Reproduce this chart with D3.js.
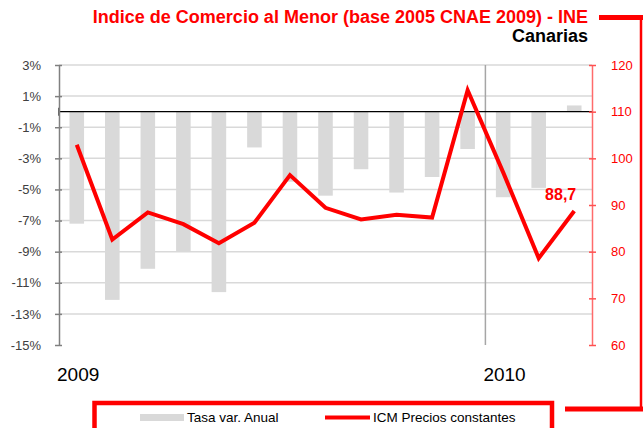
<!DOCTYPE html>
<html>
<head>
<meta charset="utf-8">
<script src="https://cdn.jsdelivr.net/npm/d3@7"></script>
<style>
  html, body { margin: 0; padding: 0; background: #fff; }
  svg { display: block; font-family: "Liberation Sans", Arial, sans-serif; }
</style>
</head>
<body>
<svg id="chart" width="643" height="428"></svg>
<script>
// ---- Data ----
const months = ["2009-01","2009-02","2009-03","2009-04","2009-05","2009-06","2009-07","2009-08","2009-09","2009-10","2009-11","2009-12","2010-01","2010-02","2010-03"];
const tasaVar = [-7.2, -12.1, -10.1, -9.0, -11.6, -2.3, -4.5, -5.4, -3.7, -5.2, -4.2, -2.4, -5.5, -4.9, 0.4];
const icm = [102.9, 82.6, 88.4, 85.9, 81.8, 86.2, 96.4, 89.4, 86.9, 87.9, 87.3, 114.6, 97.0, 78.6, 88.7];
const leftTicks = [3, 1, -1, -3, -5, -7, -9, -11, -13, -15];
const rightTicks = [120, 110, 100, 90, 80, 70, 60];
const years = [{label: "2009", first: "2009-01"}, {label: "2010", first: "2010-01"}];
const titleText = "Indice de Comercio al Menor (base 2005 CNAE 2009) - INE";
const subtitleText = "Canarias";
const lastLabel = "88,7";
const legendLabels = ["Tasa var. Anual", "ICM Precios constantes"];

// ---- Layout ----
const svg = d3.select("#chart");
const pL = 59, pR = 592, pT = 65, pB = 345;

const x = d3.scaleBand().domain(months).range([pL, pR]).paddingInner(0.59).paddingOuter(0.295);
const yL = d3.scaleLinear().domain([-15, 3]).range([pB, pT]);
const yR = d3.scaleLinear().domain([60, 120]).range([pB, pT]);
const step = x.step();

// gridlines
svg.append("g").selectAll("line").data(leftTicks.filter(d => d !== -15)).join("line")
  .attr("x1", pL).attr("x2", pR)
  .attr("y1", d => yL(d)).attr("y2", d => yL(d))
  .attr("stroke", "#d9d9d9").attr("stroke-width", 1.5);

// bars
svg.append("g").selectAll("rect").data(months).join("rect")
  .attr("x", d => x(d))
  .attr("width", x.bandwidth())
  .attr("y", (d, i) => yL(Math.max(0, tasaVar[i])))
  .attr("height", (d, i) => Math.abs(yL(tasaVar[i]) - yL(0)))
  .attr("fill", "#d9d9d9");

// year separator
const sepX = x("2010-01") - (step - x.bandwidth()) / 2;
svg.append("line").attr("x1", sepX).attr("x2", sepX).attr("y1", pT).attr("y2", pB)
  .attr("stroke", "#a6a6a6").attr("stroke-width", 1.5);

// zero line
svg.append("line").attr("x1", pL).attr("x2", pR).attr("y1", yL(0)).attr("y2", yL(0))
  .attr("stroke", "#000").attr("stroke-width", 1.2);
svg.append("line").attr("x1", pL).attr("x2", pL).attr("y1", yL(0) - 4).attr("y2", yL(0) + 4)
  .attr("stroke", "#000").attr("stroke-width", 1.2);

// left axis
const axL = d3.axisLeft(yL).tickValues(leftTicks).tickFormat(d => d + "%").tickSizeInner(4).tickSizeOuter(0).tickPadding(14);
const gL = svg.append("g").attr("transform", `translate(${pL},0)`).call(axL);
gL.select(".domain").attr("stroke", "#808080").attr("stroke-width", 1.5);
gL.selectAll(".tick line").attr("stroke", "#808080").attr("stroke-width", 1.5).attr("x1", 3);
gL.selectAll(".tick text").attr("fill", "#404040").style("font-size", "13px").style("font-family", "Liberation Sans, Arial, sans-serif");

// right axis
const axR = d3.axisRight(yR).tickValues(rightTicks).tickSizeInner(4).tickSizeOuter(0).tickPadding(15);
const gR = svg.append("g").attr("transform", `translate(${pR},0)`).call(axR);
gR.select(".domain").attr("stroke", "#ff6b6b").attr("stroke-width", 1.5);
gR.selectAll(".tick line").attr("stroke", "#ff5050").attr("stroke-width", 1.5).attr("x1", -3);
gR.selectAll(".tick text").attr("fill", "#ff0000").style("font-size", "13px").style("font-family", "Liberation Sans, Arial, sans-serif");

// line
const line = d3.line().x((d, i) => x(months[i]) + x.bandwidth() / 2).y(d => yR(d));
svg.append("path").datum(icm).attr("d", line)
  .attr("fill", "none").attr("stroke", "#ff0000").attr("stroke-width", 4).attr("stroke-linejoin", "miter");

// last value label
const lastI = icm.length - 1;
svg.append("text").attr("x", x(months[lastI]) + x.bandwidth() / 2 + 2).attr("y", yR(icm[lastI]) - 11)
  .attr("text-anchor", "end").attr("fill", "#ff0000").style("font-size", "16px").style("font-weight", "bold")
  .text(lastLabel);

// year labels
svg.append("g").selectAll("text").data(years).join("text")
  .attr("x", d => x(d.first) - (step - x.bandwidth()) / 2 - 2)
  .attr("y", 381)
  .attr("fill", "#000").style("font-size", "19px")
  .text(d => d.label);

// title
svg.append("text").attr("x", 588).attr("y", 22.5).attr("text-anchor", "end")
  .attr("fill", "#ff0000").style("font-size", "18px").style("font-weight", "bold").text(titleText);
svg.append("text").attr("x", 588).attr("y", 42).attr("text-anchor", "end")
  .attr("fill", "#000").style("font-size", "18px").style("font-weight", "bold").text(subtitleText);

// decorative frame lines
svg.append("line").attr("x1", 599).attr("x2", 643).attr("y1", 17.5).attr("y2", 17.5).attr("stroke", "#ff0000").attr("stroke-width", 5);
svg.append("line").attr("x1", 641).attr("x2", 641).attr("y1", 15).attr("y2", 411).attr("stroke", "#ff0000").attr("stroke-width", 2.5);
svg.append("line").attr("x1", 565).attr("x2", 643).attr("y1", 409).attr("y2", 409).attr("stroke", "#ff0000").attr("stroke-width", 5);

// legend box
svg.append("rect").attr("x", 94.5).attr("y", 403).attr("width", 457.5).attr("height", 40)
  .attr("fill", "none").attr("stroke", "#ff0000").attr("stroke-width", 4.5);
svg.append("rect").attr("x", 140).attr("y", 414).attr("width", 44).attr("height", 7).attr("fill", "#d9d9d9");
svg.append("text").attr("x", 187).attr("y", 422).attr("fill", "#000").style("font-size", "13.5px").text(legendLabels[0]);
svg.append("line").attr("x1", 325).attr("x2", 370).attr("y1", 417.5).attr("y2", 417.5).attr("stroke", "#ff0000").attr("stroke-width", 4);
svg.append("text").attr("x", 373).attr("y", 422).attr("fill", "#000").style("font-size", "13.5px").text(legendLabels[1]);
</script>
</body>
</html>
